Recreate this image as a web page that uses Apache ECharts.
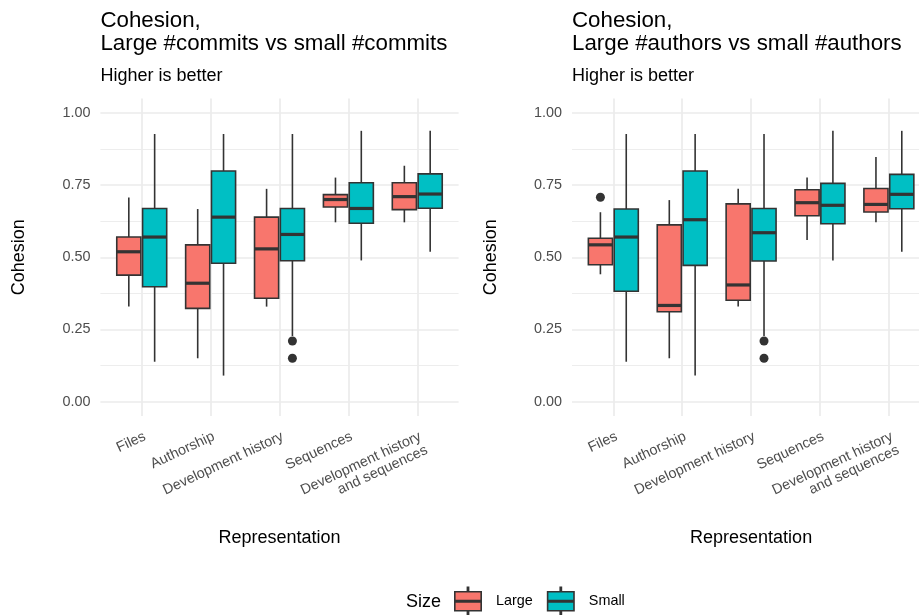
<!DOCTYPE html>
<html><head><meta charset="utf-8">
<script src="https://cdn.jsdelivr.net/npm/echarts@6/dist/echarts.min.js"></script>
<style>html,body{margin:0;padding:0;background:#fff}#c{width:919px;height:615px}</style>
</head><body><div id="c"></div><script>
const categories = ['Files', 'Authorship', 'Development history', 'Sequences', 'Development history\nand sequences'];
const groups = ['Large', 'Small'];
const yTicks = [0, 0.25, 0.5, 0.75, 1];
const yMinorTicks = [0.125, 0.375, 0.625, 0.875];

// per category: [lower whisker, Q1, median, Q3, upper whisker]
const commitsLarge = [
  [0.329, 0.438, 0.519, 0.570, 0.707],
  [0.150, 0.323, 0.410, 0.543, 0.667],
  [0.329, 0.358, 0.529, 0.639, 0.737],
  [0.621, 0.674, 0.700, 0.717, 0.776],
  [0.621, 0.665, 0.710, 0.758, 0.817]
];
const commitsSmall = [
  [0.138, 0.398, 0.570, 0.669, 0.927],
  [0.090, 0.479, 0.639, 0.799, 0.927],
  [0.227, 0.488, 0.579, 0.669, 0.927],
  [0.489, 0.618, 0.669, 0.758, 0.938],
  [0.519, 0.670, 0.719, 0.789, 0.938]
];
const authorsLarge = [
  [0.441, 0.474, 0.543, 0.566, 0.656],
  [0.150, 0.311, 0.333, 0.612, 0.698],
  [0.329, 0.351, 0.404, 0.685, 0.737],
  [0.560, 0.644, 0.689, 0.734, 0.776],
  [0.621, 0.657, 0.683, 0.738, 0.847]
];
const authorsSmall = [
  [0.138, 0.382, 0.570, 0.667, 0.927],
  [0.090, 0.472, 0.630, 0.799, 0.927],
  [0.227, 0.487, 0.585, 0.669, 0.927],
  [0.489, 0.616, 0.680, 0.756, 0.938],
  [0.519, 0.668, 0.718, 0.787, 0.938]
];
// outliers: [category, value]
const commitsOutliersLarge = [];
const commitsOutliersSmall = [['Development history', 0.210], ['Development history', 0.150]];
const authorsOutliersLarge = [['Files', 0.708]];
const authorsOutliersSmall = [['Development history', 0.210], ['Development history', 0.150]];

const titles = ['Cohesion,\nLarge #commits vs small #commits', 'Cohesion,\nLarge #authors vs small #authors'];
const subtitle = 'Higher is better';

const FONT = '"Liberation Sans", Arial, Helvetica, sans-serif';
const COLORS = { Large: '#F8766D', Small: '#00BFC4' };
const EDGE = '#333333';
const BOX_W = 0.35;
const OFFSETS = { Large: -0.1875, Small: 0.1875 };
const GRID_COLOR = '#EBEBEB';
const LW = 1.6;

function boxRenderer(offset, color) {
  return function (params, api) {
    const x = api.value(0) + offset;
    const pLo = api.coord([x, api.value(1)]);
    const pQ1 = api.coord([x, api.value(2)]);
    const pMed = api.coord([x, api.value(3)]);
    const pQ3 = api.coord([x, api.value(4)]);
    const pHi = api.coord([x, api.value(5)]);
    const hw = api.size([BOX_W, 0])[0] / 2;
    return {
      type: 'group',
      children: [
        { type: 'line', shape: { x1: pQ3[0], y1: pQ3[1], x2: pHi[0], y2: pHi[1] }, style: { stroke: EDGE, lineWidth: LW } },
        { type: 'line', shape: { x1: pLo[0], y1: pLo[1], x2: pQ1[0], y2: pQ1[1] }, style: { stroke: EDGE, lineWidth: LW } },
        { type: 'rect', shape: { x: pQ1[0] - hw, y: pQ3[1], width: 2 * hw, height: pQ1[1] - pQ3[1] }, style: { fill: color, stroke: EDGE, lineWidth: LW } },
        { type: 'line', shape: { x1: pMed[0] - hw, y1: pMed[1], x2: pMed[0] + hw, y2: pMed[1] }, style: { stroke: EDGE, lineWidth: 3.2 } }
      ]
    };
  };
}
function outlierRenderer(offset) {
  return function (params, api) {
    const p = api.coord([api.value(0) + offset, api.value(1)]);
    return { type: 'circle', shape: { cx: p[0], cy: p[1], r: 4.5 }, style: { fill: EDGE } };
  };
}

const panels = [
  { Large: commitsLarge, Small: commitsSmall, outLarge: commitsOutliersLarge, outSmall: commitsOutliersSmall, left: 100.4 },
  { Large: authorsLarge, Small: authorsSmall, outLarge: authorsOutliersLarge, outSmall: authorsOutliersSmall, left: 572 }
];

const grid = [], xAxis = [], yAxis = [], series = [], title = [];
panels.forEach((p, i) => {
  grid.push({ left: p.left, top: 98.5, width: 358.2, height: 317.5, outerBoundsMode: 'none', containLabel: false });
  xAxis.push({
    type: 'value', gridIndex: i, min: 0.4, max: 5.6,
    axisLine: { show: false },
    axisTick: { show: false, customValues: [1, 2, 3, 4, 5] },
    axisLabel: {
      customValues: [1, 2, 3, 4, 5],
      formatter: v => categories[Math.round(v) - 1],
      rotate: 25, align: 'right', verticalAlign: 'top', margin: 13,
      fontSize: 14.4, lineHeight: 15, color: '#4D4D4D', fontFamily: FONT, hideOverlap: false
    },
    splitLine: { show: true, lineStyle: { color: GRID_COLOR, width: 1.7 } },
    name: 'Representation', nameLocation: 'middle', nameGap: 113,
    nameTextStyle: { fontSize: 18, color: '#000', fontFamily: FONT }
  });
  yAxis.push({
    type: 'value', gridIndex: i, min: -0.05, max: 1.05, position: 'left',
    axisLine: { show: false },
    axisTick: { show: false, customValues: yTicks },
    axisLabel: { customValues: yTicks, formatter: v => v.toFixed(2), margin: 10, fontSize: 14.4, color: '#4D4D4D', fontFamily: FONT },
    splitLine: { show: true, lineStyle: { color: GRID_COLOR, width: 1.7 } },
    name: 'Cohesion', nameLocation: 'middle', nameGap: 72,
    nameTextStyle: { fontSize: 18, color: '#000', fontFamily: FONT }
  });
  yAxis.push({
    type: 'value', gridIndex: i, min: -0.05, max: 1.05, position: 'left',
    axisLine: { show: false },
    axisTick: { show: false, customValues: yMinorTicks },
    axisLabel: { show: false },
    splitLine: { show: true, lineStyle: { color: GRID_COLOR, width: 0.9 } }
  });
  groups.forEach(g => {
    series.push({
      type: 'custom', name: g, xAxisIndex: i, yAxisIndex: i * 2,
      itemStyle: { color: COLORS[g] },
      renderItem: boxRenderer(OFFSETS[g], COLORS[g]),
      encode: { x: 0, y: [1, 2, 3, 4, 5] },
      data: p[g].map((s, k) => [k + 1].concat(s)),
      z: 3
    });
    const outs = g === 'Large' ? p.outLarge : p.outSmall;
    series.push({
      type: 'custom', name: g + ' outliers', xAxisIndex: i, yAxisIndex: i * 2,
      renderItem: outlierRenderer(OFFSETS[g]),
      encode: { x: 0, y: 1 },
      data: outs.map(o => [categories.indexOf(o[0]) + 1, o[1]]),
      z: 4
    });
  });
  title.push({
    left: p.left, top: 9, padding: 0, itemGap: 10,
    text: titles[i], subtext: subtitle,
    textStyle: { fontSize: 22.3, lineHeight: 23.5, fontWeight: 'normal', color: '#000', fontFamily: FONT },
    subtextStyle: { fontSize: 18, lineHeight: 20, color: '#000', fontFamily: FONT }
  });
});
title.push({
  left: 406, top: 591.7, padding: 0, text: 'Size',
  textStyle: { fontSize: 18, lineHeight: 20, fontWeight: 'normal', color: '#000', fontFamily: FONT }
});

const KEY_PATH = 'path://M13.4 0H14.6V4.5H13.4Z M0.8 4.5H27.2V23.5H0.8Z M0.8 13.3H27.2V14.7H0.8Z M13.4 23.5H14.6V28H13.4Z';

const option = {
  animation: false,
  backgroundColor: '#fff',
  title,
  legend: {
    left: 454, top: 586.5, padding: 0, orient: 'horizontal',
    itemWidth: 28, itemHeight: 28, itemGap: 14,
    data: groups.map(g => ({ name: g, icon: KEY_PATH })),
    itemStyle: { borderColor: EDGE, borderWidth: 1.6 },
    textStyle: { fontSize: 14.4, color: '#000', fontFamily: FONT, padding: [0, 0, 0, 9] }
  },
  grid, xAxis, yAxis, series
};

const chart = echarts.init(document.getElementById('c'), null, { renderer: 'canvas' });
chart.setOption(option);
</script></body></html>
